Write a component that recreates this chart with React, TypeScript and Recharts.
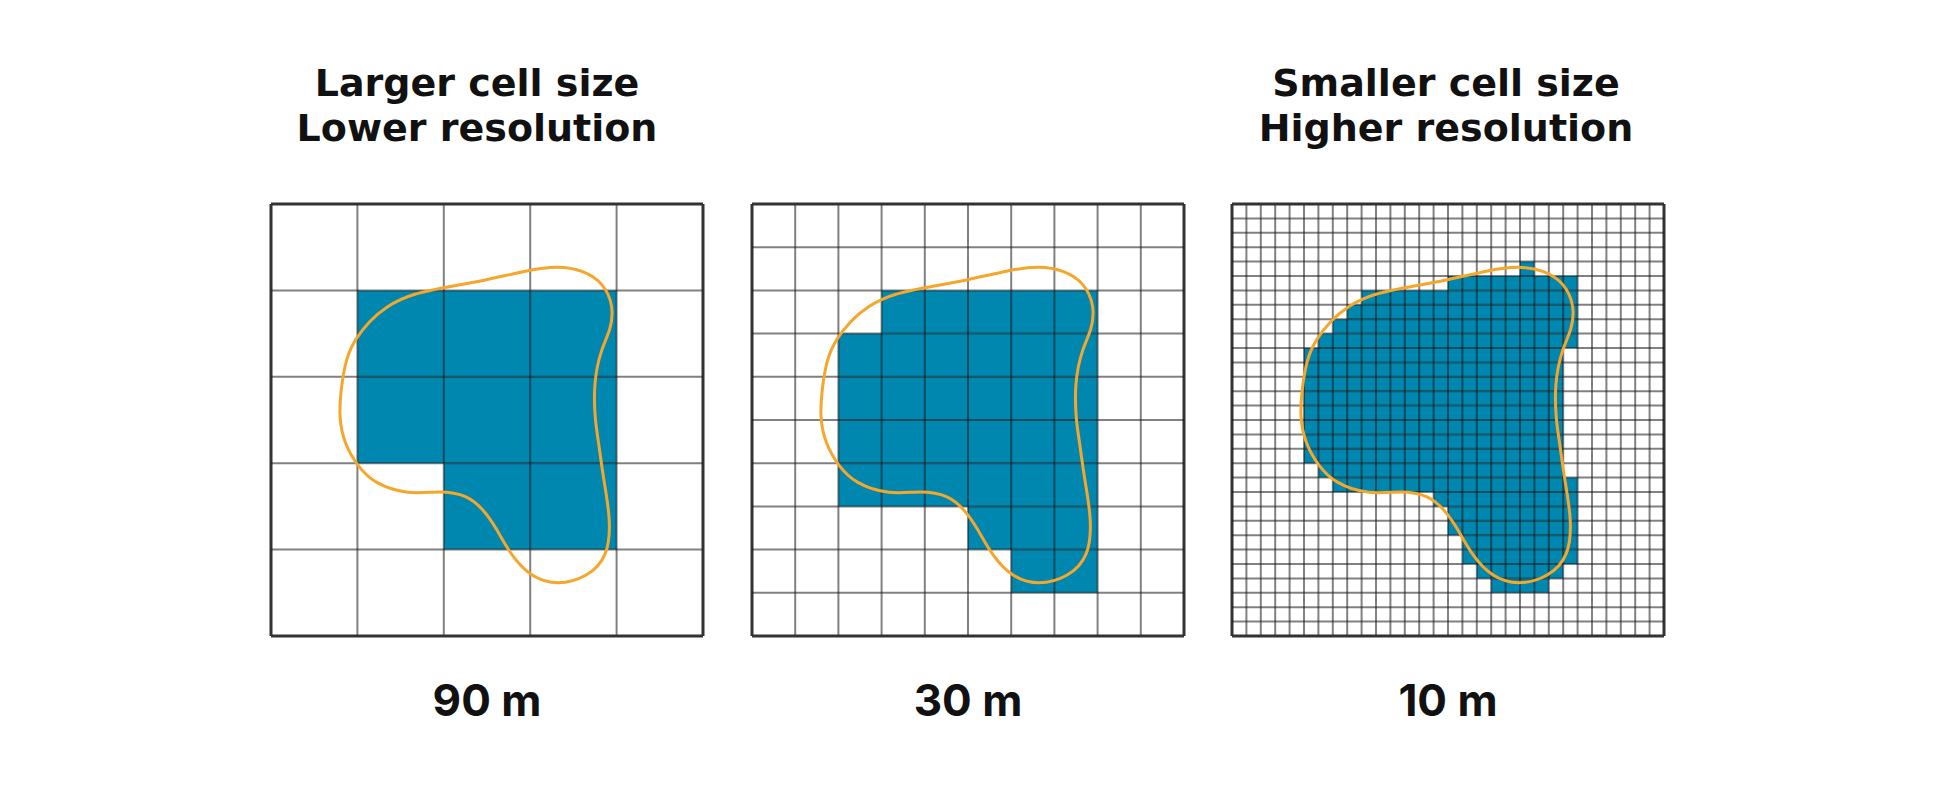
import { ComposedChart, Line, ReferenceArea, ReferenceLine, XAxis, YAxis } from 'recharts';

// every panel is drawn in the same 0..30 unit square (30 = finest grid)
const cellCounts = [5, 10, 30];
const resolutionLabels = ['90 m', '30 m', '10 m'];
const titleLines = [
  ['Larger cell size', 'Lower resolution'],
  [],
  ['Smaller cell size', 'Higher resolution'],
];

// filled cells per row: [row, firstCol, lastCol]
const filled90: [number, number, number][] = [
  [1, 1, 3],
  [2, 1, 3],
  [3, 2, 3],
];
const filled30: [number, number, number][] = [
  [2, 3, 7],
  [3, 2, 7],
  [4, 2, 7],
  [5, 2, 7],
  [6, 2, 7],
  [7, 5, 7],
  [8, 6, 7],
];
const filled10: [number, number, number][] = [
  [4, 20, 20],
  [5, 15, 23],
  [6, 9, 23],
  [7, 8, 23],
  [8, 7, 23],
  [9, 6, 23],
  [10, 5, 22],
  [11, 5, 22],
  [12, 5, 22],
  [13, 5, 22],
  [14, 5, 22],
  [15, 5, 22],
  [16, 5, 22],
  [17, 5, 22],
  [18, 6, 22],
  [19, 7, 23],
  [20, 14, 23],
  [21, 15, 23],
  [22, 15, 23],
  [23, 16, 23],
  [24, 16, 23],
  [25, 17, 22],
  [26, 18, 21],
];
const filledCells = [filled90, filled30, filled10];

// the real-world shape outline, clockwise from the top
const outlineX = [
  19.9, 21.7, 23.1, 23.8, 23.6, 22.9, 22.4, 22.5, 22.7, 23.1, 23.6, 23.4, 22.0, 19.9, 18.0, 16.6, 15.7,
  14.8, 13.6, 11.8, 9.5, 7.15, 6.0, 5.07, 4.72, 4.84, 5.19, 5.88, 6.8, 7.96, 9.8, 12.8, 15.0, 17.9,
];
const outlineY = [
  4.3, 4.6, 5.5, 7.1, 8.75, 10.1, 12.45, 15.0, 16.2, 19.2, 21.9, 24.5, 25.9, 26.5, 25.9, 24.3, 22.6,
  21.25, 20.2, 19.9, 20.2, 19.4, 18.2, 16.6, 14.8, 13.0, 10.7, 9.33, 8.17, 7.13, 6.2, 5.67, 5.28, 4.58,
];
const outline = outlineX.map((x, i) => ({ x, y: outlineY[i] }));

const GRID = 432;
const PAD = 4;
const PANEL_LEFT = [271, 752, 1232];
const TITLE_SHIFT = [-10, 0, -2];
const GRID_TOP = 204;
const FILL = '#0087B0';
const LINE = '#F6A62B';

function RasterPanel({ index }: { index: number }) {
  const n = cellCounts[index];
  const step = 30 / n;
  const bounds = Array.from({ length: n + 1 }, (_, i) => i * step);
  return (
    <div style={{ position: 'absolute', left: PANEL_LEFT[index] - PAD, top: GRID_TOP - PAD }}>
      <ComposedChart
        width={GRID + PAD * 2}
        height={GRID + PAD * 2}
        margin={{ top: PAD, right: PAD, bottom: PAD, left: PAD }}
      >
        <XAxis type="number" dataKey="x" domain={[0, 30]} hide allowDataOverflow />
        <YAxis type="number" dataKey="y" domain={[0, 30]} hide reversed allowDataOverflow />
        {filledCells[index].map(([row, from, to]) => (
          <ReferenceArea
            key={`c${row}`}
            x1={from * step}
            x2={(to + 1) * step}
            y1={row * step}
            y2={(row + 1) * step}
            fill={FILL}
            fillOpacity={1}
            stroke="none"
            ifOverflow="visible"
          />
        ))}
        {bounds.map((b, i) => {
          const edge = i === 0 || i === n;
          return (
            <ReferenceLine
              key={`v${i}`}
              x={b}
              stroke={edge ? '#333' : '#1a1a1a'}
              strokeOpacity={edge ? 1 : 0.55}
              strokeWidth={edge ? 3 : 2}
              ifOverflow="visible"
            />
          );
        })}
        {bounds.map((b, i) => {
          const edge = i === 0 || i === n;
          return (
            <ReferenceLine
              key={`h${i}`}
              y={b}
              stroke={edge ? '#333' : '#1a1a1a'}
              strokeOpacity={edge ? 1 : 0.55}
              strokeWidth={edge ? 3 : 2}
              ifOverflow="visible"
            />
          );
        })}
        <Line
          data={outline}
          dataKey="y"
          type="basisClosed"
          stroke={LINE}
          strokeWidth={3}
          dot={false}
          activeDot={false}
          isAnimationActive={false}
        />
      </ComposedChart>
    </div>
  );
}

export default function App() {
  return (
    <div
      style={{
        position: 'absolute',
        left: 0,
        top: 0,
        width: 1950,
        height: 786,
        background: '#fff',
        overflow: 'hidden',
      }}
    >
      <svg width={1950} height={786} style={{ position: 'absolute', left: 0, top: 0 }}>
        {cellCounts.map((_, i) => {
          const cx = PANEL_LEFT[i] + GRID / 2;
          return (
            <g key={i} fontWeight={700} fill="#111" textAnchor="middle">
              {titleLines[i].map((t, j) => (
                <text
                  key={j}
                  x={cx + TITLE_SHIFT[i]}
                  y={96 + j * 44.5}
                  fontSize={38}
                  fontFamily="'DejaVu Sans', sans-serif"
                >
                  {t}
                </text>
              ))}
              <text x={cx} y={716} fontSize={44} fontFamily="Inter, sans-serif">
                {resolutionLabels[i]}
              </text>
            </g>
          );
        })}
      </svg>
      {cellCounts.map((_, i) => (
        <RasterPanel key={i} index={i} />
      ))}
    </div>
  );
}
